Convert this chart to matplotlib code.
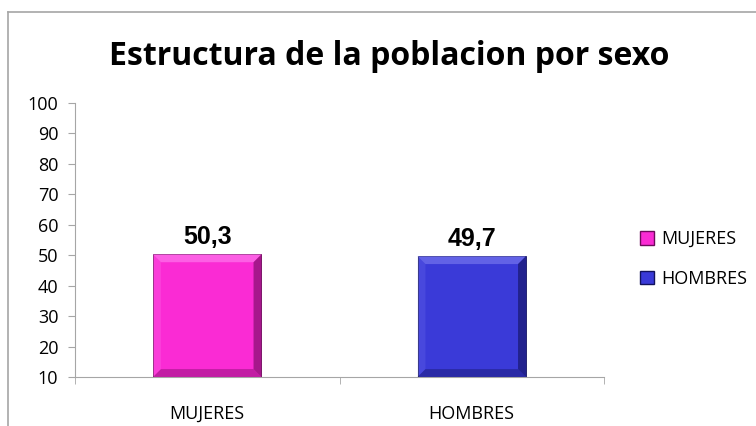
import numpy as np
import matplotlib.pyplot as plt
from matplotlib.patches import Polygon, Rectangle
from matplotlib.lines import Line2D

categories = ["MUJERES", "HOMBRES"]
values = [50.3, 49.7]
value_labels = ["50,3", "49,7"]
yticks = [10, 20, 30, 40, 50, 60, 70, 80, 90, 100]

COLORS = ["#fa2bd4", "#3a3ad8"]
DARK = ["#6e0a5c", "#12125c"]
LIGHT = ["#ff8af2", "#8484f2"]
AXIS = "#a6a6a6"
FONT = ["Open Sans", "DejaVu Sans"]

fig = plt.figure(figsize=(7.56, 4.26), dpi=100)
fig.patch.set_facecolor("white")
ax = fig.add_axes([75 / 756, 1 - 377 / 426, 529 / 756, 274 / 426])

x = np.arange(len(categories))
bars = ax.bar(x, [v - 10 for v in values], bottom=10, width=0.41,
              color=COLORS, edgecolor=DARK, linewidth=0.6, zorder=2)

# soft bevel, computed from each bar's extent
bx = 0.03
by = 2.6
for b, dk, lt in zip(bars, DARK, LIGHT):
    x0, y0 = b.get_x(), b.get_y()
    x1, y1 = x0 + b.get_width(), y0 + b.get_height()
    ax.add_patch(Polygon([[x0, y1], [x1, y1], [x1 - bx, y1 - by], [x0 + bx, y1 - by]],
                         closed=True, color=lt, alpha=0.55, lw=0, zorder=3))
    ax.add_patch(Polygon([[x0, y0], [x0, y1], [x0 + bx, y1 - by], [x0 + bx, y0 + by]],
                         closed=True, color=lt, alpha=0.2, lw=0, zorder=3))
    ax.add_patch(Polygon([[x1, y0], [x1, y1], [x1 - bx, y1 - by], [x1 - bx, y0 + by]],
                         closed=True, color=dk, alpha=0.6, lw=0, zorder=3))
    ax.add_patch(Polygon([[x0, y0], [x1, y0], [x1 - bx, y0 + by], [x0 + bx, y0 + by]],
                         closed=True, color=dk, alpha=0.4, lw=0, zorder=3))

for xi, v, lab in zip(x, values, value_labels):
    ax.text(xi, v + 3.4, lab, ha="center", va="baseline", fontsize=18,
            fontweight="bold", family=["Liberation Sans", "DejaVu Sans"])

ax.set_xlim(-0.5, len(categories) - 0.5)
ax.set_ylim(10, 100)
ax.set_yticks(yticks)
ax.set_yticklabels([str(t) for t in yticks], family=FONT, fontsize=13)
ax.set_xticks(x)
ax.set_xticklabels(categories, family=FONT, fontsize=13)
ax.set_xticks(np.arange(-0.5, len(categories)), minor=True)
ax.tick_params(axis="x", which="major", length=0, pad=20)
ax.tick_params(axis="x", which="minor", length=5, color=AXIS, direction="out")
ax.tick_params(axis="y", length=5, color=AXIS, direction="out", pad=7)
for s in ["top", "right"]:
    ax.spines[s].set_visible(False)
for s in ["left", "bottom"]:
    ax.spines[s].set_color(AXIS)

fig.text(389 / 756, 1 - 65 / 426, "Estructura de la poblacion por sexo",
         ha="center", va="baseline", fontsize=23, fontweight="bold", family=FONT)

handles = [Rectangle((0, 0), 1, 1, facecolor=c, edgecolor=d, lw=1.0)
           for c, d in zip(COLORS, DARK)]
fig.legend(handles, categories, loc="upper left",
           bbox_to_anchor=(624 / 756, 1 - 214 / 426), frameon=False,
           prop={"family": FONT, "size": 13}, handlelength=0.75, handleheight=0.75,
           handletextpad=0.4, labelspacing=1.2)

# chart area border
fig.add_artist(Line2D([8 / 756, 8 / 756], [0, 1 - 12 / 426], color=AXIS, lw=1.2))
fig.add_artist(Line2D([8 / 756, 1], [1 - 12 / 426, 1 - 12 / 426], color=AXIS, lw=1.2))

fig.savefig("out.png", dpi=100, facecolor="white")
